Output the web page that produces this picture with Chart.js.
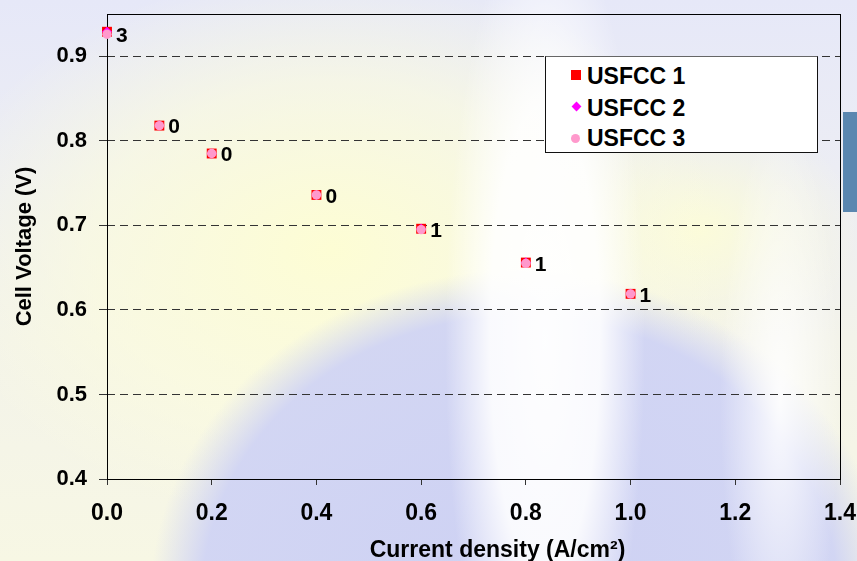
<!DOCTYPE html>
<html>
<head>
<meta charset="utf-8">
<script src="https://cdn.jsdelivr.net/npm/chart.js@4/dist/chart.umd.min.js"></script>
<style>
  html, body { margin: 0; padding: 0; }
  body { width: 857px; height: 561px; overflow: hidden; position: relative;
    font-family: "Liberation Sans", Arial, sans-serif;
    background:
      radial-gradient(ellipse 100px 430px at 545px 340px, rgba(255,255,255,0.97) 0%, rgba(255,255,255,0.88) 55%, rgba(255,255,255,0) 100%),
      radial-gradient(ellipse 60px 280px at 780px 400px, rgba(255,255,255,0.9) 0%, rgba(255,255,255,0) 100%),
      radial-gradient(ellipse 370px 330px at 520px 600px, rgba(203,207,244,0.95) 0%, rgba(206,210,245,0.9) 86%, rgba(210,214,246,0) 100%),
      radial-gradient(ellipse 400px 280px at 330px 250px, rgba(253,253,212,1) 0%, rgba(253,253,220,0.6) 60%, rgba(253,253,230,0) 100%),
      radial-gradient(ellipse 160px 120px at 700px 230px, rgba(253,253,215,0.9) 0%, rgba(253,253,225,0) 100%),
      linear-gradient(to bottom, #E6E8F8 0%, #ECEDF4 30%, #F3F3EA 60%, #F7F7E4 100%);
  }
  #wrap { position: absolute; left: 0; top: 0; width: 857px; height: 561px; }
  #bluebar { position: absolute; left: 843px; top: 112px; width: 14px; height: 100px; background: #5A87B0; }
  #legend { position: absolute; left: 545px; top: 56px; width: 271px; height: 95px; background: #fff;
    border: 1px solid #111; border-top-color: #666; }
  .row { position: absolute; left: 41px; font: bold 23px "Liberation Sans", Arial, sans-serif; line-height: 23px; color: #000; white-space: nowrap; }
  .mk { position: absolute; }
</style>
</head>
<body>
<div id="bluebar"></div>
<div id="wrap"><canvas id="c" width="857" height="561"></canvas></div>
<div id="legend"></div>
<script>
// ---- data ----
const currentDensity = [0.0, 0.1, 0.2, 0.4, 0.6, 0.8, 1.0];
const usfcc1 = [0.929, 0.818, 0.785, 0.736, 0.696, 0.656, 0.619];
const usfcc2 = [0.929, 0.818, 0.785, 0.736, 0.696, 0.656, 0.619];
const usfcc3 = [0.926, 0.818, 0.785, 0.736, 0.695, 0.655, 0.619];
const pointLabels = ['3', '0', '0', '0', '1', '1', '1'];
const seriesNames = ['USFCC 1', 'USFCC 2', 'USFCC 3'];
const yTickValues = [0.4, 0.5, 0.6, 0.7, 0.8, 0.9];
const xTickValues = [0.0, 0.2, 0.4, 0.6, 0.8, 1.0, 1.2, 1.4];
const xTitle = 'Current density (A/cm²)';
const yTitle = 'Cell Voltage (V)';

const FONT = '"Liberation Sans", Arial, sans-serif';
const toXY = arr => arr.map((v, i) => ({ x: currentDensity[i], y: v }));

const framePlugin = {
  id: 'frame',
  beforeDatasetsDraw(chart) {
    const { ctx, chartArea: a } = chart;
    ctx.save();
    ctx.strokeStyle = '#000';
    ctx.lineWidth = 1;
    ctx.strokeRect(Math.round(a.left) + 0.5, Math.round(a.top) + 0.5, Math.round(a.right - a.left), Math.round(a.bottom - a.top));
    ctx.restore();
  }
};

const labelPlugin = {
  id: 'pointLabels',
  afterDatasetsDraw(chart) {
    const { ctx } = chart;
    const meta = chart.getDatasetMeta(2);
    ctx.save();
    ctx.font = 'bold 21px ' + FONT;
    ctx.fillStyle = '#000';
    ctx.textAlign = 'left';
    ctx.textBaseline = 'middle';
    meta.data.forEach((pt, i) => {
      ctx.fillText(pointLabels[i], pt.x + 9, pt.y + 2);
    });
    ctx.restore();
  }
};

const xTitlePlugin = {
  id: 'xTitle',
  afterDraw(chart) {
    const { ctx, chartArea: a } = chart;
    ctx.save();
    ctx.font = 'bold 23px ' + FONT;
    ctx.fillStyle = '#000';
    ctx.textAlign = 'center';
    ctx.textBaseline = 'alphabetic';
    ctx.fillText(xTitle, (a.left + a.right) / 2 + 24, 557);
    ctx.restore();
  }
};

new Chart(document.getElementById('c'), {
  type: 'scatter',
  data: {
    datasets: [
      { label: seriesNames[0], data: toXY(usfcc1), clip: false, pointStyle: 'rect', pointRadius: 7, backgroundColor: '#FF0000', borderColor: '#FF0000', borderWidth: 0, order: 3 },
      { label: seriesNames[1], data: toXY(usfcc2), clip: false, pointStyle: 'rectRot', pointRadius: 5, backgroundColor: '#FF00FF', borderColor: '#FF00FF', borderWidth: 0, order: 2 },
      { label: seriesNames[2], data: toXY(usfcc3), clip: false, pointStyle: 'circle', pointRadius: 4.7, backgroundColor: '#FF99CC', borderColor: '#FF99CC', borderWidth: 0, order: 1 }
    ]
  },
  options: {
    responsive: false,
    animation: false,
    layout: { padding: { top: 14, right: 17, left: 0, bottom: 0 } },
    plugins: { legend: { display: false }, tooltip: { enabled: false } },
    scales: {
      x: {
        type: 'linear', min: 0, max: 1.4,
        afterFit(s) { s.height = 82; s.paddingLeft = 0; s.paddingRight = 0; },
        afterBuildTicks(s) { s.ticks = xTickValues.map(v => ({ value: v })); },
        border: { display: false },
        grid: { drawOnChartArea: false, drawTicks: true, tickLength: 6, tickColor: '#333', tickWidth: 1 },
        ticks: { padding: 15, color: '#000', font: { family: FONT, size: 23, weight: 'bold' }, maxRotation: 0, callback: v => Number(v).toFixed(1) }
      },
      y: {
        type: 'linear', min: 0.4, max: 0.95,
        afterFit(s) { s.width = 107; s.paddingTop = 0; s.paddingBottom = 0; },
        afterBuildTicks(s) { s.ticks = yTickValues.map(v => ({ value: v })); },
        border: { display: false, dash: [8, 5] },
        grid: { color: '#333', lineWidth: 1, drawTicks: true, tickLength: 8, tickColor: '#333', tickWidth: 1 },
        ticks: { padding: 12, color: '#000', font: { family: FONT, size: 22, weight: 'bold' }, callback: v => Number(v).toFixed(1) },
        title: { display: true, text: yTitle, color: '#000', font: { family: FONT, size: 22, weight: 'bold' }, padding: { top: 12, bottom: 0 } }
      }
    }
  },
  plugins: [framePlugin, labelPlugin, xTitlePlugin]
});

// legend (HTML)
const legend = document.getElementById('legend');
const rowTops = [8, 40, 70];
const markers = [
  '<div class="mk" style="left:25px;top:13px;width:10px;height:10px;background:#FF0000"></div>',
  '<div class="mk" style="left:27px;top:46px;width:7px;height:7px;background:#FF00FF;transform:rotate(45deg)"></div>',
  '<div class="mk" style="left:25px;top:77px;width:9px;height:9px;border-radius:50%;background:#FF99CC"></div>'
];
seriesNames.forEach((name, i) => {
  legend.insertAdjacentHTML('beforeend', markers[i] + '<div class="row" style="top:' + rowTops[i] + 'px">' + name + '</div>');
});
</script>
</body>
</html>
